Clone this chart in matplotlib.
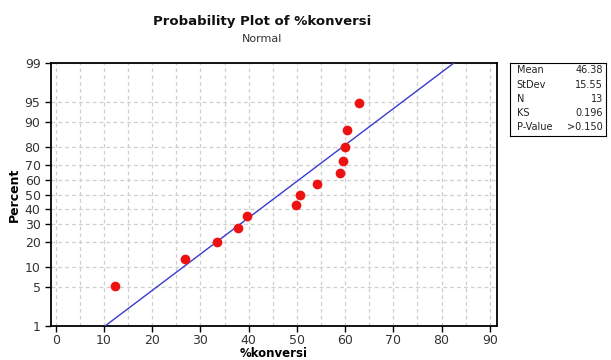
import numpy as np
import matplotlib
matplotlib.use("Agg")
import matplotlib.pyplot as plt
from statistics import NormalDist

# data
konversi = [12.2, 26.8, 33.5, 37.8, 39.7, 49.8, 50.7, 54.1, 58.9, 59.5, 60.0, 60.4, 62.9]
mean_val = 46.38
stdev_val = 15.55
ks_val = 0.196
pval_text = ">0.150"
y_ticks = [1, 5, 10, 20, 30, 40, 50, 60, 70, 80, 90, 95, 99]
x_ticks = [0, 10, 20, 30, 40, 50, 60, 70, 80, 90]

nd = NormalDist()
_ppf = np.vectorize(lambda p: nd.inv_cdf(min(max(p / 100.0, 1e-9), 1 - 1e-9)), otypes=[float])
_cdf = np.vectorize(lambda z: nd.cdf(z) * 100.0, otypes=[float])


def forward(p):
    return _ppf(np.asarray(p, dtype=float))


def inverse(z):
    return _cdf(np.asarray(z, dtype=float))


# median ranks (Benard)
n = len(konversi)
xs = np.sort(konversi)
pct = [(i - 0.3) / (n + 0.4) * 100 for i in range(1, n + 1)]

fig = plt.figure(figsize=(6.11, 3.6), dpi=100)
ax = fig.add_axes([51 / 611, 1 - 326 / 360, 446 / 611, 263 / 360])
ax.set_yscale("function", functions=(forward, inverse))

# fitted line
line_p = np.array([1, 5, 10, 20, 30, 40, 50, 60, 70, 80, 90, 95, 99])
line_x = [mean_val + stdev_val * nd.inv_cdf(p / 100) for p in line_p]
ax.plot(line_x, line_p, color="#3a3ad0", lw=1.0, zorder=3)

ax.plot(xs, pct, "o", color="#ee1111", ms=7, mec="none", zorder=4)

ax.set_xlim(-1, 91.5)
ax.set_ylim(1, 99)
ax.set_yticks(y_ticks)
ax.set_yticklabels([str(t) for t in y_ticks])
ax.set_xticks(x_ticks)
ax.set_xticks(np.arange(5, 91, 10), minor=True)
ax.yaxis.set_minor_locator(matplotlib.ticker.NullLocator())

ax.grid(True, which="both", axis="x", color="#cfcfcf", ls=(0, (3, 2.5)), lw=0.9)
ax.grid(True, which="major", axis="y", color="#cfcfcf", ls=(0, (3, 2.5)), lw=0.9)
ax.tick_params(axis="x", which="minor", length=0)
ax.tick_params(axis="both", which="major", length=4, width=1, direction="out",
               labelsize=9, labelcolor="#333333")
ax.tick_params(axis="x", which="major", pad=2)
for s in ax.spines.values():
    s.set_linewidth(1.3)

ax.set_ylabel("Percent", fontsize=9, fontweight="bold", labelpad=3)
ax.set_xlabel("%konversi", fontsize=8.5, fontweight="bold", labelpad=0)

fig.text(262 / 611, 1 - 22 / 360, "Probability Plot of %konversi", ha="center", va="center",
         fontsize=9.5, fontweight="bold", color="#111111")
fig.text(262 / 611, 1 - 39 / 360, "Normal", ha="center", va="center",
         fontsize=8, color="#333333")

# stats box
box = fig.add_axes([510 / 611, 1 - 136 / 360, 96 / 611, 73 / 360])
box.set_xticks([])
box.set_yticks([])
for s in box.spines.values():
    s.set_linewidth(0.8)
labels = ["Mean", "StDev", "N", "KS", "P-Value"]
values = [f"{mean_val:.2f}", f"{stdev_val:.2f}", str(n), f"{ks_val:.3f}", pval_text]
for i, (lab, val) in enumerate(zip(labels, values)):
    yy = 0.9 - i * 0.195
    box.text(0.07, yy, lab, fontsize=7, va="center", ha="left", color="#222222")
    box.text(0.97, yy, val, fontsize=7, va="center", ha="right", color="#222222")

fig.savefig("out.png", dpi=100)
